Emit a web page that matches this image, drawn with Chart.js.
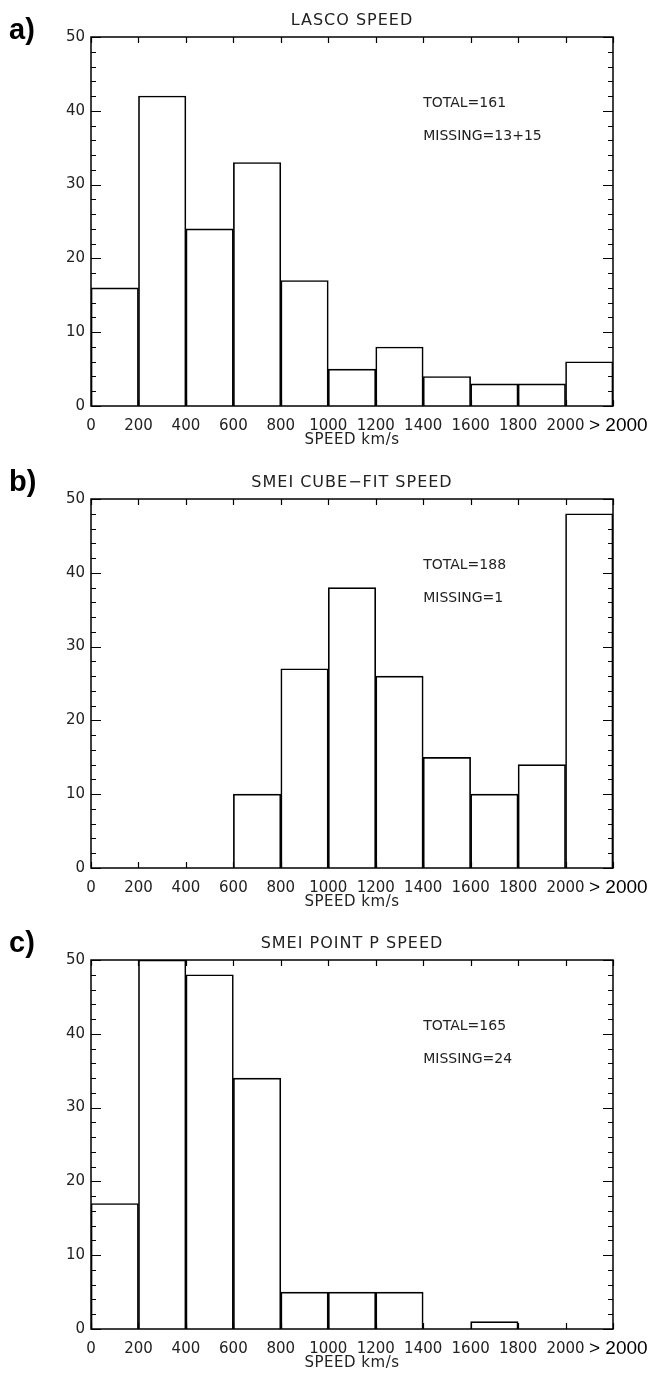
<!DOCTYPE html>
<html>
<head>
<meta charset="utf-8">
<script src="https://cdn.jsdelivr.net/npm/chart.js@4.4.1/dist/chart.umd.min.js"></script>
<style>
  html, body { margin: 0; padding: 0; background: #fff; overflow: hidden; }
  #wrap { position: relative; width: 652px; height: 1377px; overflow: hidden; }
  canvas { position: absolute; left: 0; }
</style>
</head>
<body>
<div id="wrap">
  <canvas id="chartA" width="652" height="460" style="top:0px"></canvas>
  <canvas id="chartB" width="652" height="460" style="top:462px"></canvas>
  <canvas id="chartC" width="652" height="460" style="top:923px"></canvas>
</div>
<script>
// speed bins (km/s), last one holds everything above 2000
const binStarts = [0, 200, 400, 600, 800, 1000, 1200, 1400, 1600, 1800, 2000];
const xTickLabels = ['0', '200', '400', '600', '800', '1000', '1200', '1400', '1600', '1800', '2000', '> 2000'];
const yTickLabels = ['0', '10', '20', '30', '40', '50'];

const lascoCounts   = [16, 42, 24, 33, 17, 5, 8, 4, 3, 3, 6];
const cubeFitCounts = [0, 0, 0, 10, 27, 38, 26, 15, 10, 14, 48];
const pointPCounts  = [17, 50, 48, 34, 5, 5, 5, 0, 1, 0, 0];

const panelTitles = ['LASCO SPEED', 'SMEI CUBE\u2212FIT SPEED', 'SMEI POINT P SPEED'];
const panelLetters = ['a)', 'b)', 'c)'];
const totalNotes = ['TOTAL=161', 'TOTAL=188', 'TOTAL=165'];
const missingNotes = ['MISSING=13+15', 'MISSING=1', 'MISSING=24'];

const FONT = "'Liberation Sans', Arial, sans-serif";
const THIN = "'DejaVu Sans', sans-serif";
const BIN = 200;
const LAST = xTickLabels.length - 1;

// box, inward ticks and all the loose text
const frame = {
  id: 'frame',
  afterDatasetsDraw(chart, args, opts) {
    const { ctx, chartArea: a, scales: { x, y } } = chart;
    ctx.save();
    ctx.strokeStyle = '#000';
    ctx.lineWidth = 1.5;
    ctx.strokeRect(a.left, a.top, a.right - a.left, a.bottom - a.top);

    ctx.lineWidth = 1.2;
    ctx.beginPath();
    x.ticks.forEach(t => {
      const px = Math.round(x.getPixelForValue(t.value)) + 0.5;
      ctx.moveTo(px, a.bottom); ctx.lineTo(px, a.bottom - 6);
      ctx.moveTo(px, a.top); ctx.lineTo(px, a.top + 6);
    });
    for (let v = y.min; v <= y.max; v += 2) {
      const py = Math.round(y.getPixelForValue(v)) + 0.5;
      const len = v % 10 === 0 ? 10 : 5;
      ctx.moveTo(a.left, py); ctx.lineTo(a.left + len, py);
      ctx.moveTo(a.right, py); ctx.lineTo(a.right - len, py);
    }
    ctx.stroke();

    const cx = (a.left + a.right) / 2;
    ctx.fillStyle = '#222';
    ctx.textBaseline = 'middle';
    ctx.textAlign = 'center';
    ctx.font = '16px ' + THIN;
    ctx.letterSpacing = '1px';
    ctx.fillText(opts.title, cx, a.top - 16);
    ctx.font = '15px ' + THIN;
    ctx.letterSpacing = '0.5px';
    ctx.fillText('SPEED km/s', cx, a.bottom + 34);

    ctx.textAlign = 'left';
    ctx.font = '14px ' + THIN;
    ctx.letterSpacing = '0px';
    ctx.fillText(opts.total, x.getPixelForValue(1400), y.getPixelForValue(41));
    ctx.fillText(opts.missing, x.getPixelForValue(1400), y.getPixelForValue(36.6));

    ctx.fillStyle = '#000';
    ctx.font = 'bold 29px ' + FONT;
    ctx.fillText(opts.letter, 9, opts.letterY);
    ctx.restore();
  }
};

function makePanel(id, counts, i, letterY) {
  new Chart(document.getElementById(id), {
    type: 'bar',
    data: {
      datasets: [{
        data: binStarts.map((b, k) => ({ x: b + BIN / 2, y: counts[k] })),
        backgroundColor: 'rgba(0,0,0,0)',
        borderColor: '#000',
        borderWidth: 1,
        borderSkipped: 'start',
        barPercentage: 1,
        categoryPercentage: 1
      }]
    },
    options: {
      responsive: false,
      devicePixelRatio: 1,
      animation: false,
      layout: { padding: { top: 37, right: 39, bottom: 0, left: 0 } },
      plugins: {
        legend: { display: false },
        tooltip: { enabled: false },
        frame: {
          title: panelTitles[i], letter: panelLetters[i], letterY: letterY,
          total: totalNotes[i], missing: missingNotes[i]
        }
      },
      scales: {
        x: {
          type: 'linear',
          min: 0,
          max: 2200,
          offset: false,
          grid: { display: false, drawTicks: false, offset: false },
          border: { display: false },
          afterFit: s => { s.height = 54; s.paddingLeft = 0; s.paddingRight = 0; },
          ticks: {
            stepSize: BIN,
            autoSkip: false,
            maxRotation: 0,
            padding: 11,
            // leading spaces nudge the big last label right, clear of "2000"
            callback: (v, k) => k === LAST ? '  ' + xTickLabels[k] : xTickLabels[k],
            color: c => c.index === LAST ? '#000' : '#222',
            font: c => c.index === LAST
              ? { family: FONT, size: 19, lineHeight: 0.95 }
              : { family: THIN, size: 15, lineHeight: 1.2 }
          }
        },
        y: {
          min: 0,
          max: 50,
          grid: { display: false, drawTicks: false },
          border: { display: false },
          afterFit: s => { s.width = 91; },
          ticks: {
            stepSize: 10,
            padding: 6,
            color: '#222',
            font: { family: THIN, size: 15 },
            callback: (v, k) => yTickLabels[k]
          }
        }
      }
    },
    plugins: [frame]
  });
}

makePanel('chartA', lascoCounts, 0, 31);
makePanel('chartB', cubeFitCounts, 1, 21);
makePanel('chartC', pointPCounts, 2, 21);
</script>
</body>
</html>
